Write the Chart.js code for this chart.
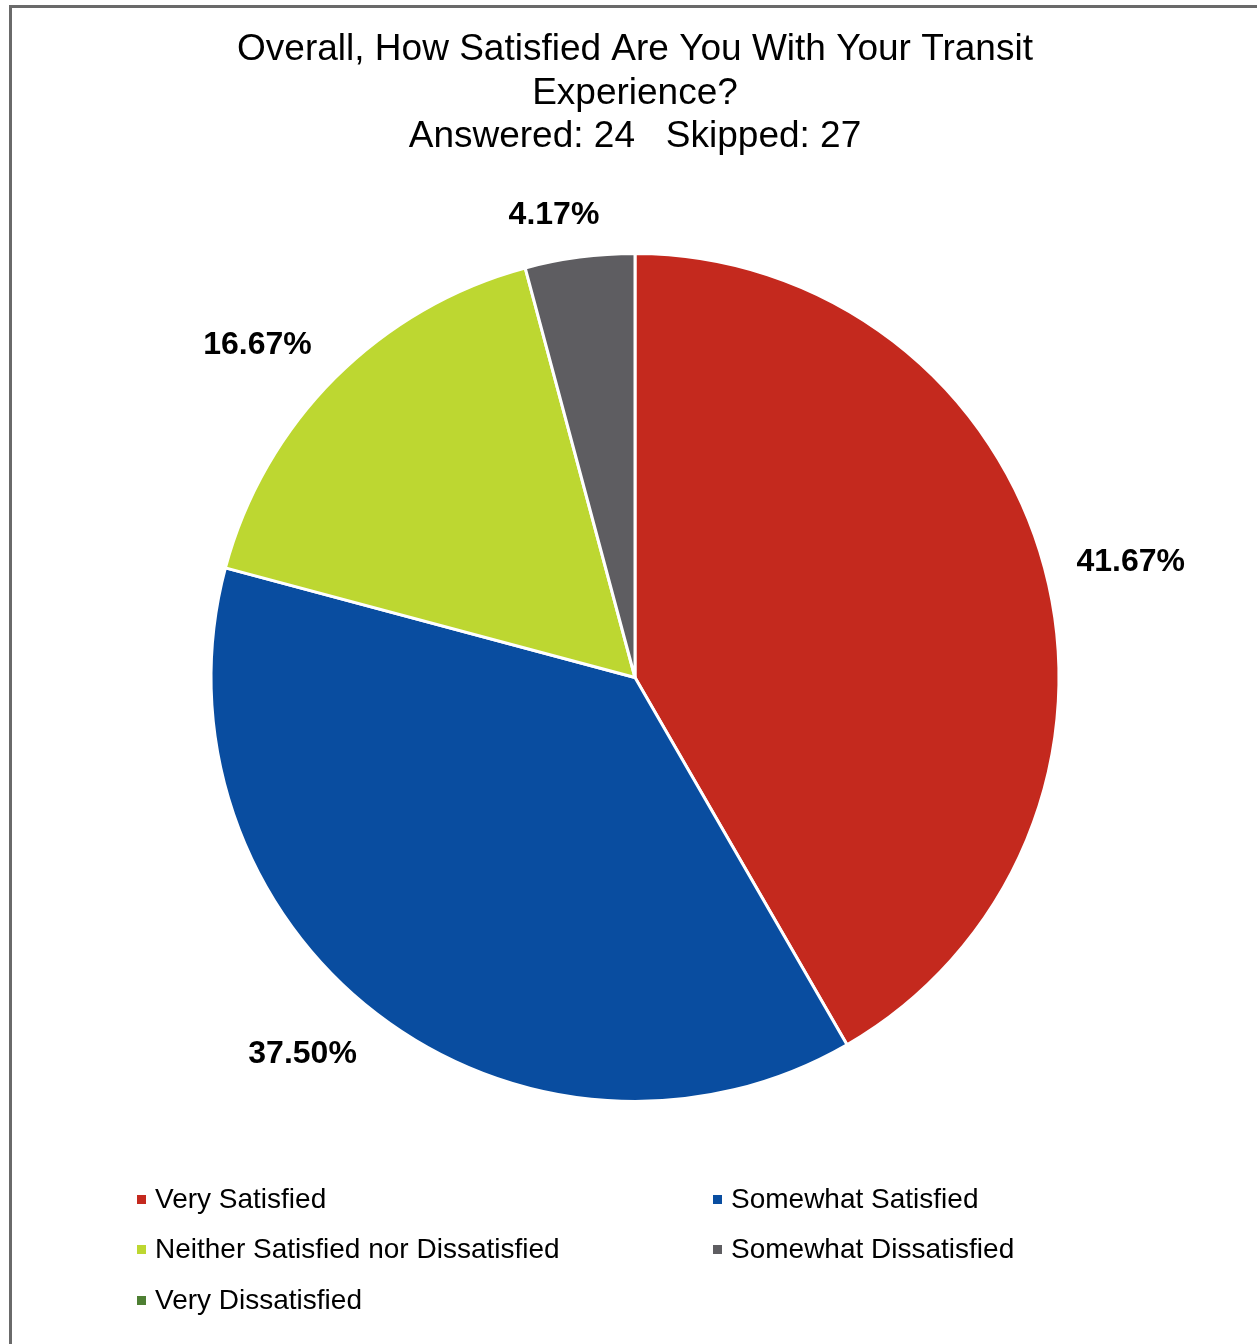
<!DOCTYPE html>
<html>
<head>
<meta charset="utf-8">
<title>Transit Satisfaction</title>
<script src="https://cdn.jsdelivr.net/npm/chart.js@4/dist/chart.umd.min.js"></script>
<style>
  html, body { margin: 0; padding: 0; background: #ffffff; }
  #wrap { position: relative; width: 1257px; height: 1344px; overflow: hidden; }
  #frame {
    position: absolute; left: 9px; top: 5px; width: 1400px; height: 1500px;
    border-left: 3px solid #6a6a6a; border-top: 3px solid #6a6a6a;
    box-sizing: border-box;
  }
  #chart { position: absolute; left: 0; top: 0; }
</style>
</head>
<body>
<div id="wrap">
  <div id="frame"></div>
  <canvas id="chart" width="1257" height="1344"></canvas>
</div>
<script>
// Survey answers and their share of responses (%)
const categories = [
  "Very Satisfied",
  "Somewhat Satisfied",
  "Neither Satisfied nor Dissatisfied",
  "Somewhat Dissatisfied",
  "Very Dissatisfied"
];
const percentages = [41.67, 37.50, 16.67, 4.17, 0];
const sliceColors = ["#c4291e", "#094da0", "#bdd731", "#5e5d61", "#4e7f33"];
const titleLines = [
  "Overall, How Satisfied Are You With Your Transit",
  "Experience?",
  "Answered: 24   Skipped: 27"
];

const FONT = "'Liberation Sans', Arial, Helvetica, sans-serif";

// Title text centred above the pie
const titlePlugin = {
  id: "titleText",
  afterDraw(chart) {
    const ctx = chart.ctx;
    ctx.save();
    ctx.fillStyle = "#000";
    ctx.font = "37px " + FONT;
    ctx.textAlign = "center";
    ctx.textBaseline = "middle";
    const cx = 635;
    titleLines.forEach((line, i) => {
      ctx.fillText(line, cx, 50 + i * 43.5);
    });
    ctx.restore();
  }
};

const clamp01 = v => Math.max(0, Math.min(1, v));

// Percentage labels placed just outside each slice: an anchor point sits a
// fixed gap beyond the rim on the slice's mid-angle, and the label box is
// hung off that anchor on the side facing away from the pie.
const outsideLabels = {
  id: "outsideLabels",
  afterDatasetsDraw(chart) {
    const ctx = chart.ctx;
    const meta = chart.getDatasetMeta(0);
    const size = 32;
    ctx.save();
    ctx.font = "bold " + size + "px " + FONT;
    ctx.fillStyle = "#000";
    ctx.textAlign = "left";
    ctx.textBaseline = "alphabetic";
    meta.data.forEach((arc, i) => {
      const v = percentages[i];
      if (!v) return;
      const p = arc.getProps(["x", "y", "startAngle", "endAngle", "outerRadius"], true);
      const mid = (p.startAngle + p.endAngle) / 2;
      const text = v.toFixed(2) + "%";
      const w = ctx.measureText(text).width;
      const h = size * 0.72;
      const gap = 33;
      const cs = Math.cos(mid), sn = Math.sin(mid);
      const ax = p.x + (p.outerRadius + gap) * cs;
      const ay = p.y + (p.outerRadius + gap) * sn;
      const fx = clamp01(0.5 - 1.8 * cs);
      const fy = 0.5 - 0.5 * Math.sign(sn) * clamp01((Math.abs(sn) - 0.3) / 0.35);
      const left = ax - fx * w;
      const top = ay - fy * h;
      ctx.fillText(text, left, top + h);
    });
    ctx.restore();
  }
};

// Two-column legend beneath the pie
const gridLegend = {
  id: "gridLegend",
  afterDraw(chart) {
    const ctx = chart.ctx;
    const colX = [141, 717];
    const rowY = [1199, 1249, 1300];
    ctx.save();
    ctx.font = "28px " + FONT;
    ctx.textAlign = "left";
    ctx.textBaseline = "middle";
    chart.data.labels.forEach((label, i) => {
      const x = colX[i % 2];
      const y = rowY[Math.floor(i / 2)];
      ctx.fillStyle = chart.data.datasets[0].backgroundColor[i];
      ctx.fillRect(x - 4, y - 4, 9, 9);
      ctx.fillStyle = "#000";
      ctx.fillText(label, x + 14, y + 1);
    });
    ctx.restore();
  }
};

new Chart(document.getElementById("chart"), {
  type: "pie",
  data: {
    labels: categories,
    datasets: [{
      data: percentages,
      backgroundColor: sliceColors,
      borderColor: "#ffffff",
      borderWidth: 3
    }]
  },
  options: {
    responsive: false,
    animation: false,
    layout: { padding: { top: 252, bottom: 241, left: 209, right: 196 } },
    plugins: {
      legend: { display: false },
      title: { display: false },
      tooltip: { enabled: false }
    }
  },
  plugins: [titlePlugin, outsideLabels, gridLegend]
});
</script>
</body>
</html>
